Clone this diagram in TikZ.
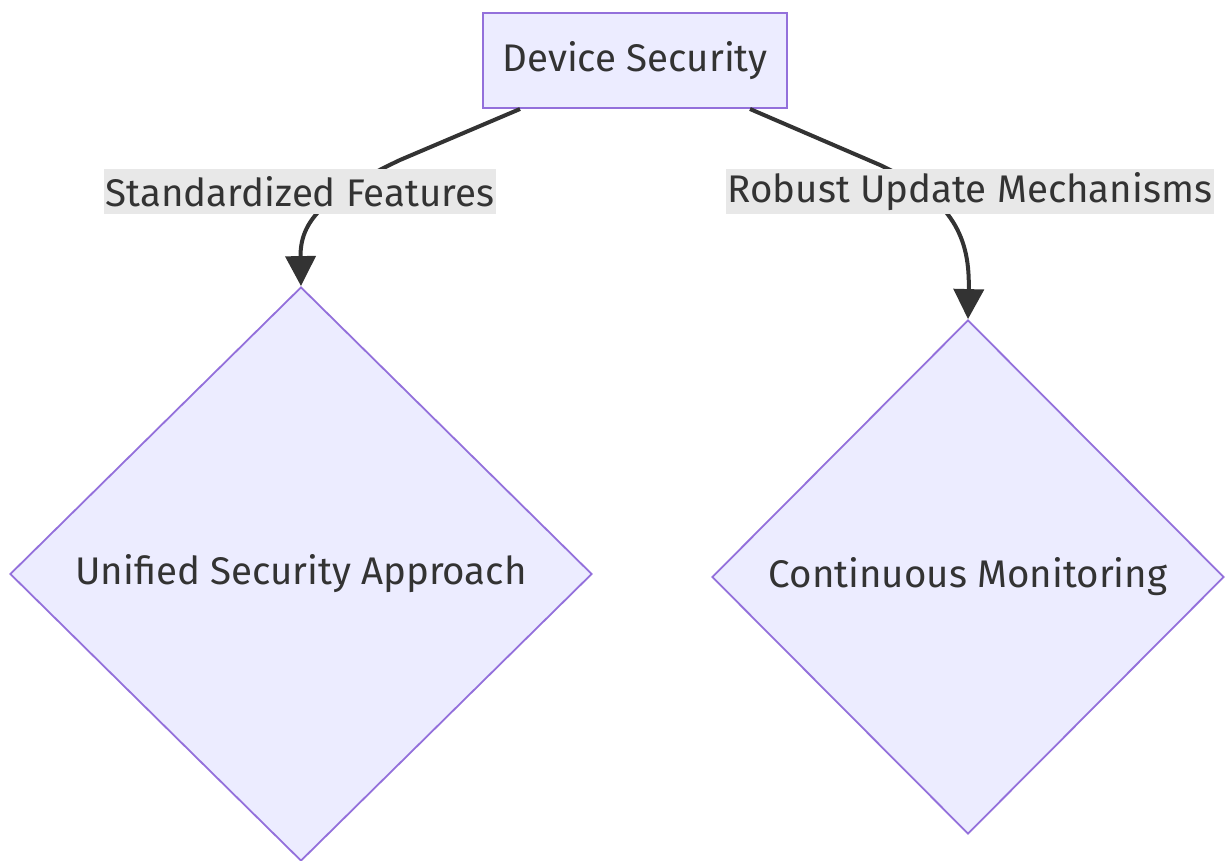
\documentclass[tikz,border=0pt]{standalone}
\usepackage{fontspec}
\setmainfont{Fira Sans}
\usetikzlibrary{shapes.geometric,arrows.meta,calc}
\definecolor{nodefill}{HTML}{ECECFF}
\definecolor{nodeborder}{HTML}{9370DB}
\definecolor{txt}{HTML}{333333}
\definecolor{lblbg}{HTML}{E8E8E8}
\tikzset{
  bigfont/.style={font=\fontsize{38.5}{46}\selectfont},
  procbox/.style={draw=nodeborder,fill=nodefill,line width=2pt,minimum width=304pt,minimum height=95pt,inner sep=0pt,bigfont,text=txt},
  decision/.style={diamond,draw=nodeborder,fill=nodefill,line width=1.8pt,inner sep=0pt,bigfont,text=txt},
  edgelabel/.style={fill=lblbg,inner xsep=2pt,inner ysep=0pt,minimum height=45pt,bigfont,text=txt},
  flow/.style={draw=txt,line width=4pt,-{Triangle[length=30pt,width=30pt]}}
}
\begin{document}
\begin{tikzpicture}[x=1pt,y=-1pt]
\useasboundingbox (0,0) rectangle (1226,861);
\node[procbox] (dev) at (635,60.5) {Device Security};
\node[decision,minimum width=582pt,minimum height=574pt] (uni) at (301,574) {Unified Security Approach};
\node[decision,minimum width=512pt,minimum height=514pt] (con) at (968,577) {Continuous Monitoring};
\draw[flow] ($(dev.south)+(-115,0)$) -- (400,160) .. controls (322,197) and (300,222) .. (uni.north);
\draw[flow] ($(dev.south)+(115,0)$) -- (880,165) .. controls (955,200) and (970,240) .. (con.north);
\node[edgelabel] (l1) at (300,191.5) {Standardized Features};
\node[edgelabel] (l2) at (970,191.5) {Robust Update Mechanisms};
\end{tikzpicture}
\end{document}
